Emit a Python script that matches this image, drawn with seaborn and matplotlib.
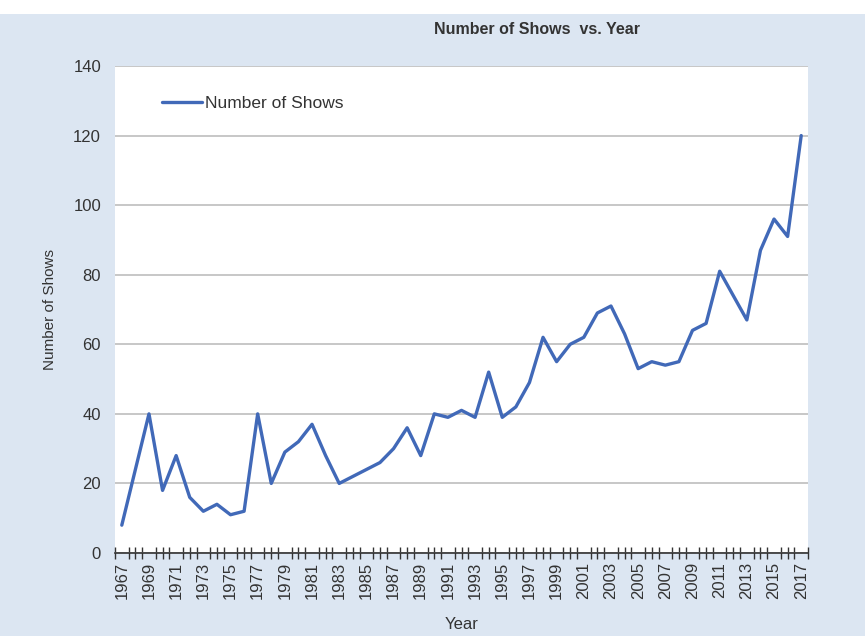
import numpy as np
import pandas as pd
import seaborn as sns
import matplotlib.pyplot as plt
from matplotlib.ticker import FixedLocator, NullFormatter

# data
years = list(range(1967, 2018))
shows = [8, 24, 40, 18, 28, 16, 12, 14, 11, 12,
         40, 20, 29, 32, 37, 28, 20, 22, 24, 26,
         30, 36, 28, 40, 39, 41, 39, 52, 39, 42,
         49, 62, 55, 60, 62, 69, 71, 63, 53, 55,
         54, 55, 64, 66, 81, 74, 67, 87, 96, 91,
         120]
y_ticks = [0, 20, 40, 60, 80, 100, 120, 140]

df = pd.DataFrame({"pos": np.arange(len(years)), "Number of Shows": shows})

sns.set_style("white")
plt.rcParams["font.family"] = ["Liberation Sans", "DejaVu Sans"]

bg = "#dce6f2"
fig = plt.figure(figsize=(8.65, 6.36), dpi=100, facecolor=bg)
# white strip at the very top (clipped caption of the source page)
fig.patches.append(plt.Rectangle((0, 1 - 14 / 636), 1, 14 / 636, transform=fig.transFigure,
                                 facecolor="white", edgecolor="none", zorder=0))
ax = fig.add_axes([115 / 865, 1 - 553 / 636, 693 / 865, 487 / 636])
ax.set_facecolor("white")

sns.lineplot(data=df, x="pos", y="Number of Shows", ax=ax, color="#4169b8",
             linewidth=2.4, label="Number of Shows", solid_joinstyle="round",
             solid_capstyle="round")

ax.set_xlim(-0.5, len(years) - 0.5)
ax.set_ylim(0, 140)
ax.set_yticks(y_ticks)
ax.yaxis.grid(True, color="#bdbdbd", linewidth=1.2)
ax.set_axisbelow(True)
for s in ["top", "right", "left"]:
    ax.spines[s].set_visible(False)
ax.spines["bottom"].set_color("#333333")
ax.spines["bottom"].set_linewidth(1.2)

# labels every second year, tick marks crossing the axis at every half category
ax.set_xticks(np.arange(0, len(years), 2))
ax.set_xticklabels([str(y) for y in years[::2]], rotation=90)
ax.xaxis.set_minor_locator(FixedLocator(np.arange(-0.5, len(years), 0.5)))
ax.xaxis.set_minor_formatter(NullFormatter())
ax.tick_params(axis="x", which="major", direction="inout", length=9, width=1.0,
               color="#333333", pad=2, labelsize=12, labelcolor="#333333")
ax.tick_params(axis="x", which="minor", direction="inout", length=9, width=1.0,
               color="#333333", bottom=True)
ax.tick_params(axis="y", length=0, pad=10, labelsize=12, labelcolor="#333333")

ax.set_xlabel("Year", fontsize=12, color="#333333", labelpad=13)
ax.set_ylabel("Number of Shows", fontsize=11, color="#333333", labelpad=12)

leg = ax.legend(loc="upper left", bbox_to_anchor=(0.045, 0.97), frameon=False,
                fontsize=12.5, handlelength=2.3, handletextpad=0.2, labelcolor="#333333")

fig.text(537 / 865, 1 - 30 / 636, "Number of Shows  vs. Year", ha="center", va="center",
         fontsize=11.5, color="#333333", fontweight="bold")

fig.savefig("out.png", dpi=100, facecolor=bg)
